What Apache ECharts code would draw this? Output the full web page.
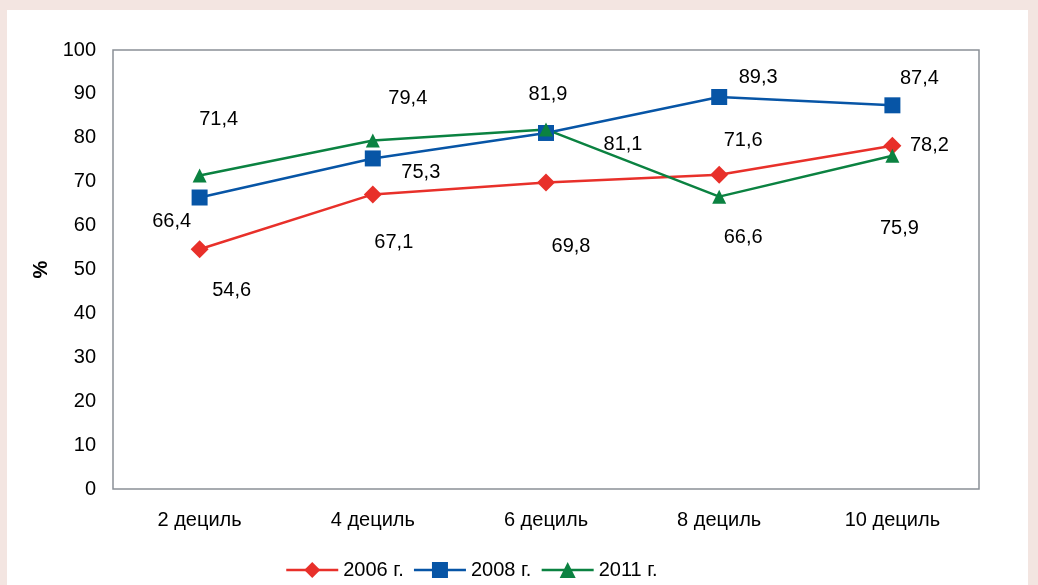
<!DOCTYPE html>
<html>
<head>
<meta charset="utf-8">
<script src="https://cdn.jsdelivr.net/npm/echarts@6/dist/echarts.min.js"></script>
<style>
  html, body { margin: 0; padding: 0; width: 1038px; height: 585px; background: #f3e5e1; overflow: hidden; }
  #panel { position: absolute; left: 7px; top: 10px; width: 1021px; height: 575px; background: #ffffff; }
  #chart { position: absolute; left: -7px; top: -10px; width: 1038px; height: 585px; }
</style>
</head>
<body>
<div id="panel"><div id="chart"></div></div>
<script>
// Income deciles and shares (%) by survey year
const categories = ['2 дециль', '4 дециль', '6 дециль', '8 дециль', '10 дециль'];
const yearNames = ['2006 г.', '2008 г.', '2011 г.'];
const values2006 = [54.6, 67.1, 69.8, 71.6, 78.2];
const values2008 = [66.4, 75.3, 81.1, 89.3, 87.4];
const values2011 = [71.4, 79.4, 81.9, 66.6, 75.9];

// Label placement relative to each point (px)
const offsets2006 = [[32, 41], [21, 48], [25, 64], [24, -34], [37, 0]];
const offsets2008 = [[-28, 24], [48, 14], [77, 12], [39, -19], [27, -27]];
const offsets2011 = [[19, -56], [35, -42], [2, -35], [24, 41], [7, 73]];

const FONT = 'Liberation Sans, Arial, sans-serif';
const fmt = v => String(v).replace('.', ',');

function buildData(values, offsets) {
  return values.map((v, i) => ({
    value: v,
    label: { offset: offsets[i] }
  }));
}

function makeSeries(name, values, offsets, color, symbol, size) {
  return {
    name: name,
    type: 'line',
    data: buildData(values, offsets),
    symbol: symbol,
    symbolSize: size,
    lineStyle: { color: color, width: 2.5 },
    itemStyle: { color: color },
    label: {
      show: true,
      position: 'inside',
      formatter: p => fmt(p.value),
      color: '#000',
      fontFamily: FONT,
      fontSize: 20
    },
    animation: false
  };
}

const chart = echarts.init(document.getElementById('chart'));
chart.setOption({
  backgroundColor: 'transparent',
  grid: { left: 113, right: 59, top: 50, bottom: 96, show: true, borderColor: '#8a9097', borderWidth: 1.5, backgroundColor: 'transparent' },
  legend: {
    bottom: 0,
    left: 280,
    itemWidth: 52,
    itemHeight: 20,
    itemGap: 9,
    lineStyle: { width: 2.5 },
    textStyle: { color: '#000', fontFamily: FONT, fontSize: 20 },
    data: yearNames
  },
  xAxis: {
    type: 'category',
    data: categories,
    boundaryGap: true,
    axisLine: { show: false },
    axisTick: { show: false },
    axisLabel: { color: '#000', fontFamily: FONT, fontSize: 20, margin: 21 }
  },
  yAxis: {
    type: 'value',
    min: 0,
    max: 100,
    interval: 10,
    name: '%',
    nameLocation: 'middle',
    nameRotate: 90,
    nameGap: 59,
    nameTextStyle: { color: '#000', fontFamily: FONT, fontSize: 20, fontWeight: 'bold' },
    axisLine: { show: false },
    axisTick: { show: false },
    splitLine: { show: false },
    axisLabel: { color: '#000', fontFamily: FONT, fontSize: 20, margin: 17 }
  },
  series: [
    makeSeries(yearNames[0], values2006, offsets2006, '#e8302a', 'diamond', 18),
    makeSeries(yearNames[1], values2008, offsets2008, '#0755a6', 'rect', 16),
    makeSeries(yearNames[2], values2011, offsets2011, '#0b8241', 'triangle', 14)
  ]
});
</script>
</body>
</html>
